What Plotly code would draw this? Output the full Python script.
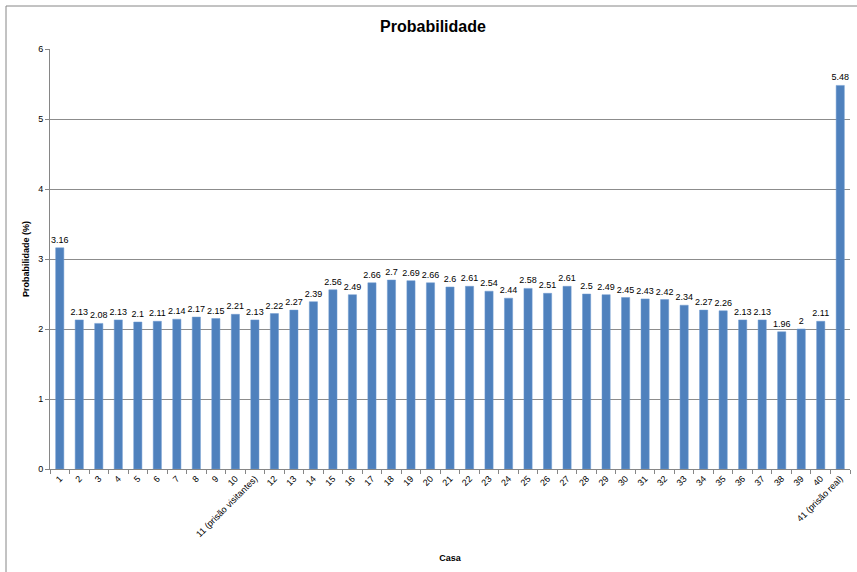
import plotly.graph_objects as go

categorias = [str(i) for i in range(1, 41)]
categorias[10] = "11 (prisão visitantes)"
categorias.append("41 (prisão real)")

probabilidade = [3.16, 2.13, 2.08, 2.13, 2.1, 2.11, 2.14, 2.17, 2.15, 2.21,
                 2.13, 2.22, 2.27, 2.39, 2.56, 2.49, 2.66, 2.7, 2.69, 2.66,
                 2.6, 2.61, 2.54, 2.44, 2.58, 2.51, 2.61, 2.5, 2.49, 2.45,
                 2.43, 2.42, 2.34, 2.27, 2.26, 2.13, 2.13, 1.96, 2, 2.11, 5.48]

y_ticks = [0, 1, 2, 3, 4, 5, 6]

FONT = "Liberation Sans"

fig = go.Figure()
fig.add_trace(go.Bar(
    x=categorias, y=probabilidade,
    marker=dict(color="#4F81BD", line=dict(color="#6E9AD0", width=0.5)),
    text=[f"{v:g}" for v in probabilidade],
    textposition="outside",
    constraintext="none",
    textfont=dict(family=FONT, size=9, color="#000000"),
    cliponaxis=False,
))

W, H = 857, 572
L, R, T, B = 50, 7, 49, 103
pw, ph = W - L - R, H - T - B

fig.update_layout(
    width=W, height=H,
    margin=dict(l=L, r=R, t=T, b=B),
    paper_bgcolor="white", plot_bgcolor="white",
    bargap=0.58,
    showlegend=False,
    title=dict(text="<b>Probabilidade</b>", x=(433 - L) / pw, xref="paper",
               xanchor="center", y=1 - 26 / H, yanchor="middle",
               font=dict(family=FONT, size=16, color="#000000")),
    font=dict(family=FONT, size=9, color="#000000"),
    xaxis=dict(
        type="category", tickangle=-45, tickson="boundaries",
        ticks="outside", ticklen=4, tickcolor="#868686",
        showline=True, linecolor="#868686", linewidth=1,
        tickfont=dict(family=FONT, size=9, color="#000000"),
        title=dict(text="<b>Casa</b>", font=dict(family=FONT, size=9), standoff=16),
        showgrid=False,
    ),
    yaxis=dict(
        range=[0, 6], tickvals=y_ticks, ticks="outside", ticklen=4,
        tickcolor="#868686", showline=True, linecolor="#868686", linewidth=1,
        showgrid=True, gridcolor="#8C8C8C", gridwidth=1, zeroline=False,
        tickfont=dict(family=FONT, size=9, color="#000000"),
        title=dict(text="<b>Probabilidade (%)</b>", font=dict(family=FONT, size=9), standoff=7),
    ),
)

# Chart-area border (Excel style)
fig.add_shape(type="rect", xref="paper", yref="paper",
              x0=(6 - L) / pw, x1=(W + 5 - L) / pw,
              y0=-(H + 5 - T - ph) / ph, y1=1 + (T - 6) / ph,
              line=dict(color="#868686", width=1), layer="below")

fig.write_html("out.html")
